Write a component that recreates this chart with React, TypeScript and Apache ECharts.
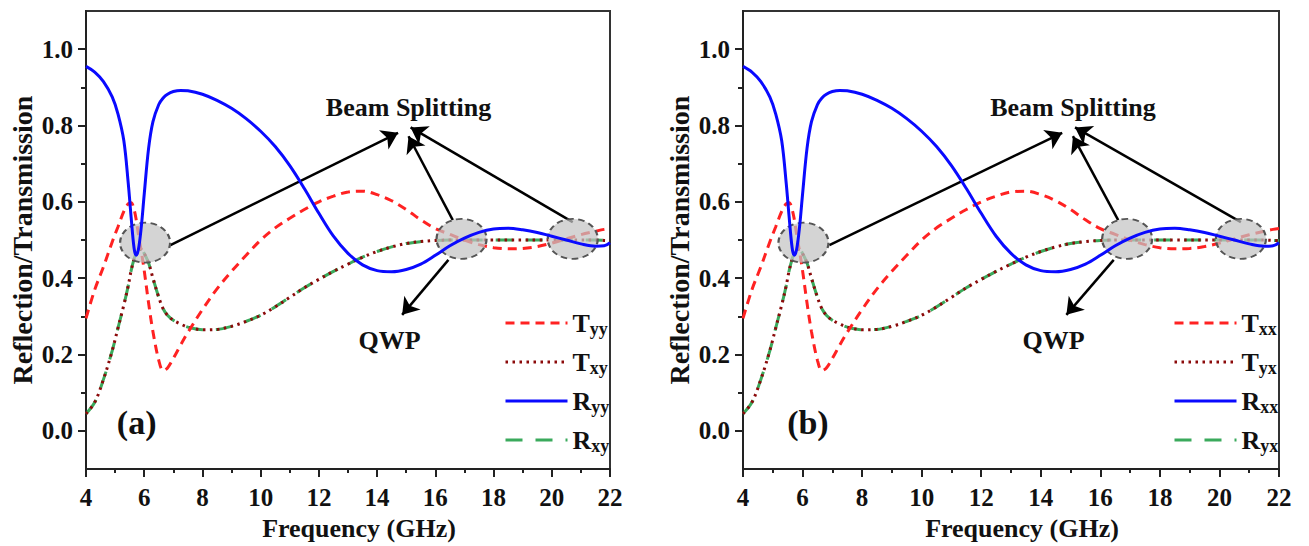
import React, { useEffect, useRef } from "react";
import * as echarts from "echarts";

const FONT = '"Liberation Serif", "Times New Roman", serif';

// Frequency samples (GHz)
const frequency = [4.0, 4.3, 4.6, 4.9, 5.1, 5.3, 5.45, 5.55, 5.65, 5.72, 5.8, 5.9, 6.0, 6.15, 6.3, 6.5, 6.65, 6.8, 7.0, 7.25, 7.5, 8.0, 8.5, 9.0, 9.5, 10.0, 10.5, 11.0, 11.5, 12.0, 12.5, 13.0, 13.5, 14.0, 14.5, 15.0, 15.5, 16.0, 16.5, 17.0, 17.5, 18.0, 18.5, 19.0, 19.5, 20.0, 20.5, 21.0, 21.5, 21.8, 22.0];

// Co-polarized transmission (T_yy / T_xx)
const coPolT = [0.295, 0.37, 0.43, 0.495, 0.535, 0.575, 0.595, 0.598, 0.58, 0.555, 0.515, 0.47, 0.42, 0.335, 0.26, 0.185, 0.158, 0.165, 0.19, 0.225, 0.258, 0.318, 0.372, 0.418, 0.46, 0.5, 0.532, 0.557, 0.58, 0.6, 0.615, 0.626, 0.628, 0.619, 0.603, 0.58, 0.553, 0.53, 0.515, 0.5, 0.488, 0.48, 0.477, 0.478, 0.483, 0.492, 0.503, 0.514, 0.523, 0.528, 0.53];

// Cross-polarized transmission (T_xy / T_yx)
const crossPolT = [0.045, 0.075, 0.135, 0.21, 0.27, 0.33, 0.38, 0.42, 0.45, 0.465, 0.475, 0.475, 0.465, 0.44, 0.4, 0.35, 0.32, 0.303, 0.29, 0.28, 0.272, 0.265, 0.266, 0.274, 0.287, 0.303, 0.325, 0.35, 0.375, 0.397, 0.418, 0.437, 0.455, 0.47, 0.482, 0.491, 0.496, 0.499, 0.5, 0.5, 0.5, 0.5, 0.5, 0.5, 0.5, 0.5, 0.5, 0.5, 0.5, 0.499, 0.498];

// Co-polarized reflection (R_yy / R_xx)
const coPolR = [0.955, 0.94, 0.915, 0.875, 0.83, 0.76, 0.65, 0.56, 0.48, 0.46, 0.475, 0.535, 0.62, 0.74, 0.81, 0.855, 0.872, 0.882, 0.889, 0.892, 0.891, 0.882, 0.866, 0.845, 0.818, 0.785, 0.745, 0.695, 0.635, 0.57, 0.51, 0.465, 0.435, 0.42, 0.417, 0.423, 0.437, 0.46, 0.485, 0.505, 0.52, 0.529, 0.531, 0.527, 0.52, 0.51, 0.5, 0.49, 0.484, 0.485, 0.493];

// Cross-polarized reflection (R_xy / R_yx)
const crossPolR = [0.045, 0.075, 0.135, 0.21, 0.27, 0.33, 0.38, 0.42, 0.45, 0.465, 0.475, 0.475, 0.465, 0.44, 0.4, 0.35, 0.32, 0.303, 0.29, 0.28, 0.272, 0.265, 0.266, 0.274, 0.287, 0.303, 0.325, 0.35, 0.375, 0.397, 0.418, 0.437, 0.455, 0.47, 0.482, 0.491, 0.496, 0.499, 0.5, 0.5, 0.5, 0.5, 0.5, 0.5, 0.5, 0.5, 0.5, 0.5, 0.5, 0.499, 0.498];

// Axis ticks
const xTicksMajor = [4, 6, 8, 10, 12, 14, 16, 18, 20, 22];
const yTicksMajor = [0, 0.2, 0.4, 0.6, 0.8, 1.0];
const yTicksMinor = [0.1, 0.3, 0.5, 0.7, 0.9];

// Annotations (data coordinates: [GHz, value])
const ellipseCenters = [[6.03, 0.493], [16.9, 0.503], [20.72, 0.503]];
const arrows = [
  [[6.9, 0.487], [14.72, 0.781]],
  [[16.6, 0.552], [15.08, 0.772]],
  [[20.72, 0.547], [15.15, 0.795]],
  [[16.45, 0.448], [14.86, 0.304]],
];
const beamLabelPos = [15.08, 0.846];
const qwpLabelPos = [14.43, 0.237];
const panelTagPos = [[5.74, 0.021], [6.18, 0.021]];

const panelNames = [
  ["T_yy", "T_xy", "R_yy", "R_xy"],
  ["T_xx", "T_yx", "R_xx", "R_yx"],
];
const panelTags = ["(a)", "(b)"];

const grids = [
  { left: 86, top: 11, width: 524, height: 466 },
  { left: 743, top: 11, width: 536, height: 464 },
];
const legendLefts = [499, 1168];

const pair = (ys: number[]) => frequency.map((f, i) => [f, ys[i]]);

const boldText = (size: number) => ({
  fontFamily: FONT,
  fontWeight: "bold" as const,
  fontSize: size,
  color: "#111",
});

function buildOption() {
  const xAxis: any[] = [];
  const yAxis: any[] = [];
  const series: any[] = [];
  const legend: any[] = [];

  grids.forEach((g, i) => {
    xAxis.push({
      gridIndex: i,
      type: "value",
      min: 4,
      max: 22,
      interval: 2,
      axisLine: { show: true, onZero: false, lineStyle: { color: "#222", width: 2 } },
      axisTick: { show: true, length: 8, lineStyle: { color: "#222", width: 2 } },
      minorTick: { show: true, splitNumber: 2, length: 4, lineStyle: { color: "#222", width: 2 } },
      splitLine: { show: false },
      minorSplitLine: { show: false },
      axisLabel: { ...boldText(25), margin: 16, customValues: xTicksMajor },
      name: "Frequency (GHz)",
      nameLocation: "middle",
      nameGap: 42,
      nameTextStyle: { ...boldText(26), padding: [0, 0, 0, 22] },
    });
    yAxis.push({
      gridIndex: i,
      type: "value",
      min: -0.1,
      max: 1.1,
      axisLine: { show: true, onZero: false, lineStyle: { color: "#222", width: 2 } },
      axisTick: { show: true, length: 8, customValues: yTicksMajor, lineStyle: { color: "#222", width: 2 } },
      axisLabel: {
        ...boldText(25),
        margin: 13,
        customValues: yTicksMajor,
        formatter: (v: number) => v.toFixed(1),
      },
      splitLine: { show: false },
      name: "Reflection/Transmission",
      nameLocation: "middle",
      nameRotate: 90,
      nameGap: 50,
      nameTextStyle: boldText(28),
    });
    yAxis.push({
      gridIndex: i,
      type: "value",
      min: -0.1,
      max: 1.1,
      position: "left",
      axisLine: { show: false, onZero: false },
      axisTick: { show: true, length: 5, customValues: yTicksMinor, lineStyle: { color: "#222", width: 2 } },
      axisLabel: { show: false },
      splitLine: { show: false },
    });

    const names = panelNames[i];
    const axisRefs = { xAxisIndex: i, yAxisIndex: i * 2 };
    const common = { type: "line", showSymbol: false, symbol: "none", smooth: 0.35, silent: true, ...axisRefs };

    series.push({
      ...common,
      name: names[3],
      data: pair(crossPolR),
      color: "#3aaa5c",
      lineStyle: { color: "#3aaa5c", width: 3, type: [17, 13] },
      z: 2,
    });
    series.push({
      ...common,
      name: names[1],
      data: pair(crossPolT),
      color: "#8b0a0a",
      lineStyle: { color: "#8b0a0a", width: 3, type: [2.5, 4.5] },
      z: 3,
    });
    series.push({
      ...common,
      name: names[0],
      data: pair(coPolT),
      color: "#ff2222",
      lineStyle: { color: "#ff2222", width: 3, type: [9, 6] },
      z: 4,
    });
    series.push({
      ...common,
      name: names[2],
      data: pair(coPolR),
      color: "#0a0aff",
      lineStyle: { color: "#0a0aff", width: 3, type: "solid" },
      z: 5,
      markPoint: {
        silent: true,
        label: { show: false },
        data: [
          ...ellipseCenters.map((c) => ({
            coord: c,
            symbol: "circle",
            symbolSize: [50, 40],
            itemStyle: {
              color: "rgba(195,195,195,0.72)",
              borderColor: "#555",
              borderWidth: 2,
              borderType: [6, 4],
            },
            label: { show: false },
          })),
          {
            coord: beamLabelPos,
            symbol: "rect",
            symbolSize: 1,
            itemStyle: { color: "rgba(0,0,0,0)" },
            label: { show: true, position: "inside", formatter: "Beam Splitting", ...boldText(26) },
          },
          {
            coord: qwpLabelPos,
            symbol: "rect",
            symbolSize: 1,
            itemStyle: { color: "rgba(0,0,0,0)" },
            label: { show: true, position: "inside", formatter: "QWP", ...boldText(26) },
          },
          {
            coord: panelTagPos[i],
            symbol: "rect",
            symbolSize: 1,
            itemStyle: { color: "rgba(0,0,0,0)" },
            label: { show: true, position: "inside", formatter: panelTags[i], ...boldText(34) },
          },
        ],
      },
      markLine: {
        silent: true,
        symbol: ["none", "arrow"],
        symbolSize: 16,
        label: { show: false },
        lineStyle: { color: "#000", width: 2.5, type: "solid" },
        itemStyle: { color: "#000" },
        emphasis: { disabled: true },
        data: arrows.map((a) => [{ coord: a[0] }, { coord: a[1] }]),
      },
    });

    legend.push({
      orient: "vertical",
      left: legendLefts[i],
      top: 305,
      itemWidth: 62,
      itemHeight: 14,
      itemGap: 11,
      selectedMode: false,
      itemStyle: { opacity: 0 },
      lineStyle: { width: 3 },
      data: [names[0], names[1], names[2], names[3]],
      formatter: (name: string) => {
        const [b, s] = name.split("_");
        return `{m|${b}}{s|${s}}`;
      },
      textStyle: {
        rich: {
          m: { ...boldText(26), lineHeight: 30 },
          s: { ...boldText(18), lineHeight: 2, verticalAlign: "bottom" },
        },
      },
    });
  });

  return {
    animation: false,
    backgroundColor: "#fff",
    grid: grids.map((g) => ({ ...g, show: true, borderColor: "#333", borderWidth: 2, backgroundColor: "transparent" })),
    xAxis,
    yAxis,
    legend,
    series,
  };
}

export default function App() {
  const ref = useRef<HTMLDivElement>(null);
  useEffect(() => {
    const chart = echarts.init(ref.current!, null, { renderer: "svg" });
    chart.setOption(buildOption() as any);
    return () => chart.dispose();
  }, []);
  return (
    <div
      ref={ref}
      style={{ position: "fixed", left: 0, top: 0, width: 1309, height: 546, background: "#fff" }}
    />
  );
}
